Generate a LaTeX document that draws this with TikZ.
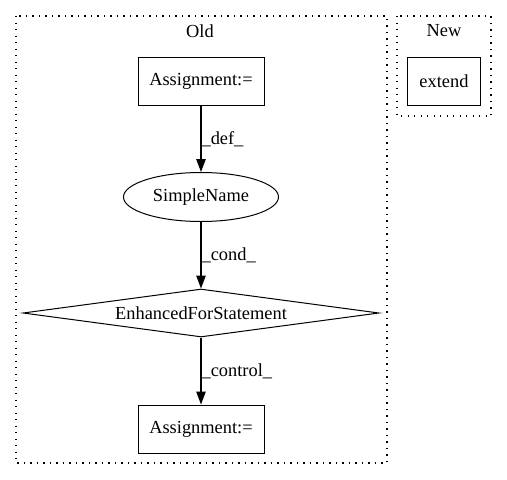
\documentclass[tikz,border=0pt]{standalone}
\usepackage{fontspec}
\setmainfont{Liberation Serif}
\usetikzlibrary{arrows.meta,shapes.geometric}
\begin{document}
\begin{tikzpicture}[x=1pt,y=-1pt,
  every node/.style={font=\fontsize{18.4pt}{21pt}\selectfont},
  box/.style={draw,line width=1pt,minimum width=126pt,minimum height=48pt,inner sep=0pt},
  cluster/.style={draw,line width=1.2pt,dash pattern=on 1.3pt off 5.2pt},
  edge/.style={draw,line width=1.1pt,-{Triangle[length=13pt,width=9.5pt]}},
  elabel/.style={anchor=west,inner sep=0pt}]
\useasboundingbox (0,0) rectangle (507,480);
\draw[cluster] (16,16) rectangle (387,463);
\draw[cluster] (397,16) rectangle (491,116);
\node (old) at (200,31) {Old};
\node (new) at (444,31) {New};
\node[box] (a1) at (201,81) {Assignment:=};
\node[box,minimum width=73pt] (ext) at (444,81) {extend};
\node[draw,line width=1pt,ellipse,minimum width=155pt,minimum height=49pt,inner sep=0pt] (sn) at (201,197) {SimpleName};
\node[draw,line width=1pt,diamond,aspect=7.4,minimum width=356pt,minimum height=48pt,inner sep=0pt] (efs) at (201,313) {EnhancedForStatement};
\node[box] (a2) at (201,429) {Assignment:=};
\draw[edge] (a1) -- node[elabel,pos=0.5] {\_def\_} (sn);
\draw[edge] (sn) -- node[elabel,pos=0.5] {\_cond\_} (efs);
\draw[edge] (efs) -- node[elabel,pos=0.5] {\_control\_} (a2);
\end{tikzpicture}
\end{document}
